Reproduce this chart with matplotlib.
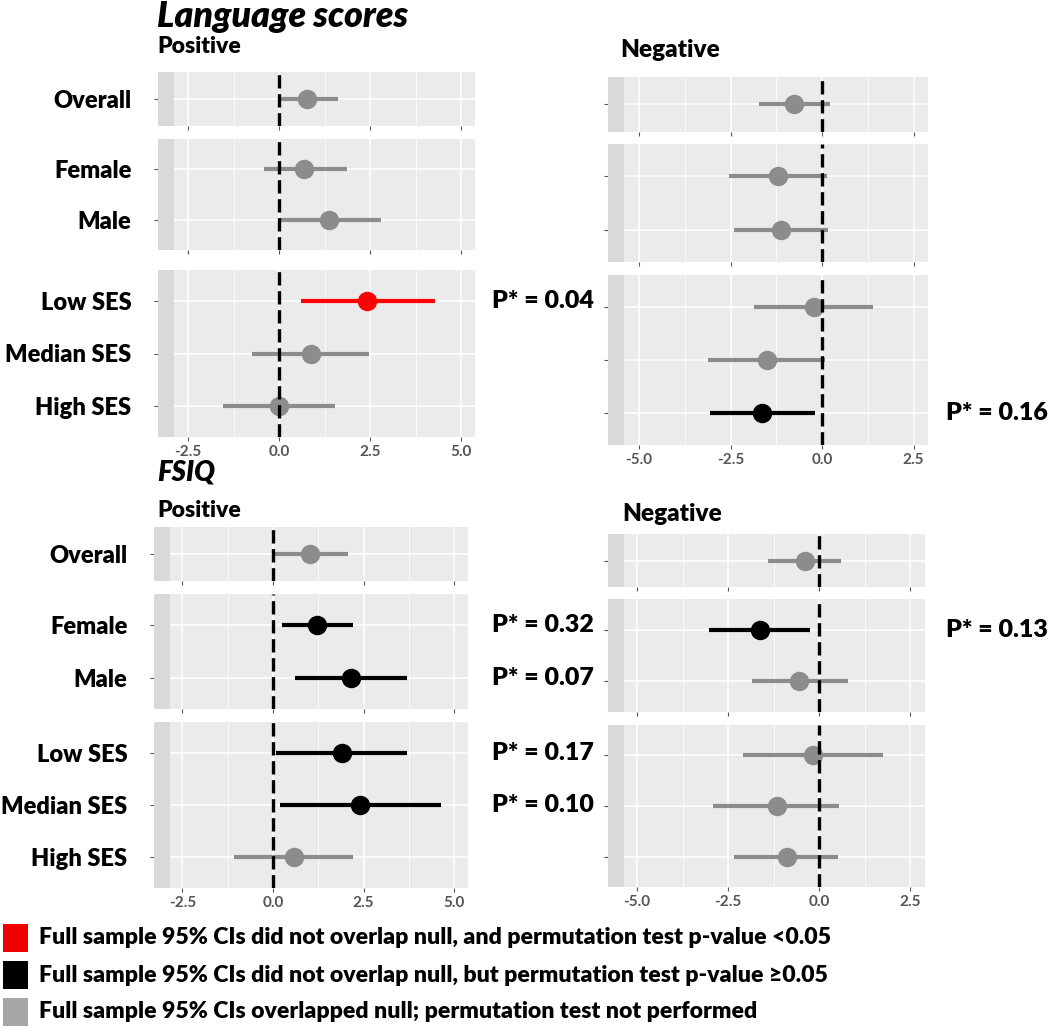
import matplotlib
matplotlib.use("Agg")
import matplotlib.pyplot as plt
from matplotlib.patches import Rectangle
from matplotlib.transforms import blended_transform_factory

plt.rcParams["font.family"] = ["Lato", "DejaVu Sans"]

W, H = 1050, 1028
WEIGHT = "heavy"

# row labels, grouped by panel
GROUPS = [["Overall"], ["Female", "Male"], ["Low SES", "Median SES", "High SES"]]

# status: "red" = CI excludes null & perm p<0.05, "black" = CI excludes null, perm p>=0.05,
#         "gray" = CI overlaps null
# --- Language scores ---
lang_pos_est = [0.77, 0.69, 1.37, 2.42, 0.87, 0.00]
lang_pos_lo = [0.03, -0.41, 0.03, 0.60, -0.75, -1.55]
lang_pos_hi = [1.63, 1.87, 2.80, 4.29, 2.48, 1.54]
lang_pos_status = ["gray", "gray", "gray", "red", "gray", "gray"]
lang_pos_p = [None, None, None, "0.04", None, None]

lang_neg_est = [-0.77, -1.20, -1.12, -0.22, -1.50, -1.64]
lang_neg_lo = [-1.72, -2.54, -2.40, -1.86, -3.11, -3.06]
lang_neg_hi = [0.22, 0.13, 0.16, 1.39, 0.08, -0.19]
lang_neg_status = ["gray", "gray", "gray", "gray", "gray", "black"]
lang_neg_p = [None, None, None, None, None, "0.16"]

# --- FSIQ ---
fsiq_pos_est = [1.02, 1.22, 2.15, 1.90, 2.40, 0.58]
fsiq_pos_lo = [0.06, 0.24, 0.61, 0.08, 0.19, -1.08]
fsiq_pos_hi = [2.07, 2.20, 3.70, 3.70, 4.64, 2.20]
fsiq_pos_status = ["gray", "black", "black", "black", "black", "gray"]
fsiq_pos_p = [None, "0.32", "0.07", "0.17", "0.10", None]

fsiq_neg_est = [-0.38, -1.62, -0.55, -0.16, -1.15, -0.88]
fsiq_neg_lo = [-1.40, -3.02, -1.84, -2.09, -2.91, -2.33]
fsiq_neg_hi = [0.60, -0.25, 0.80, 1.76, 0.55, 0.52]
fsiq_neg_status = ["gray", "black", "gray", "gray", "gray", "gray"]
fsiq_neg_p = [None, "0.13", None, None, None, None]

pos_ticks = [-2.5, 0.0, 2.5, 5.0]
neg_ticks = [-5.0, -2.5, 0.0, 2.5]

legend_labels = [
    "Full sample 95% CIs did not overlap null, and permutation test p-value <0.05",
    "Full sample 95% CIs did not overlap null, but permutation test p-value \u22650.05",
    "Full sample 95% CIs overlapped null; permutation test not performed",
]

COLORS = {"red": "#ff0000", "black": "#000000", "gray": "#8c8c8c"}
LEGEND_COLORS = ["#f00000", "#000000", "#a6a6a6"]

# layout in pixels: panel left/right, zero position, px per unit, panel tops/bottoms, P* text x
COLUMNS = [
    dict(est=lang_pos_est, lo=lang_pos_lo, hi=lang_pos_hi, st=lang_pos_status, p=lang_pos_p,
         x0=158, x1=475, zero=279, ppu=36.4, ys=[(72, 126), (139, 250), (270, 437)],
         ticks=pos_ticks, labels=True, px=492),
    dict(est=lang_neg_est, lo=lang_neg_lo, hi=lang_neg_hi, st=lang_neg_status, p=lang_neg_p,
         x0=608, x1=928, zero=822, ppu=36.6, ys=[(77, 132), (144, 262), (275, 445)],
         ticks=neg_ticks, labels=False, px=946),
    dict(est=fsiq_pos_est, lo=fsiq_pos_lo, hi=fsiq_pos_hi, st=fsiq_pos_status, p=fsiq_pos_p,
         x0=154, x1=468, zero=273, ppu=36.2, ys=[(527, 581), (594, 709), (722, 888)],
         ticks=pos_ticks, labels=True, px=492),
    dict(est=fsiq_neg_est, lo=fsiq_neg_lo, hi=fsiq_neg_hi, st=fsiq_neg_status, p=fsiq_neg_p,
         x0=608, x1=925, zero=819, ppu=36.4, ys=[(534, 587), (599, 712), (725, 887)],
         ticks=neg_ticks, labels=False, px=946),
]

fig = plt.figure(figsize=(W / 100, H / 100), dpi=100)
renderer = fig.canvas.get_renderer()


def fit_width(t, target_px):
    # scale a text's font size so it spans about target_px pixels
    for _ in range(3):
        w = t.get_window_extent(renderer).width
        t.set_fontsize(t.get_fontsize() * target_px / w)


for col in COLUMNS:
    xlim = ((col["x0"] - col["zero"]) / col["ppu"], (col["x1"] - col["zero"]) / col["ppu"])
    ticks = col["ticks"]
    minor = [(a + b) / 2 for a, b in zip(ticks[:-1], ticks[1:])]
    i = 0
    for g, names in enumerate(GROUPS):
        y0, y1 = col["ys"][g]
        ax = fig.add_axes([col["x0"] / W, 1 - y1 / H, (col["x1"] - col["x0"]) / W, (y1 - y0) / H])
        ax.set_facecolor("#ebebeb")
        for s in ax.spines.values():
            s.set_visible(False)
        ax.set_axisbelow(True)
        n = len(names)
        rows = list(range(1, n + 1))
        ax.set_ylim(n + 0.6, 0.4)
        ax.set_xlim(*xlim)
        ax.set_xticks(ticks)
        ax.set_xticks(minor, minor=True)
        ax.set_yticks(rows)
        ax.grid(which="major", color="white", lw=1.1)
        ax.grid(which="minor", axis="x", color="white", lw=0.55)
        ax.tick_params(which="minor", length=0)
        ax.tick_params(which="major", length=3, width=0.8, color="#555555")
        if g == len(GROUPS) - 1:
            ax.set_xticklabels([f"{t:.1f}" for t in ticks], fontsize=11, color="#555555",
                               fontweight="bold")
            ax.tick_params(axis="x", pad=3)
        else:
            ax.set_xticklabels([])
        if col["labels"]:
            ax.set_yticklabels(names, fontsize=17, fontweight=WEIGHT)
            ax.tick_params(axis="y", pad=16)
        else:
            ax.set_yticklabels([])
        ax.add_patch(Rectangle((0, 0), 16 / (col["x1"] - col["x0"]), 1, transform=ax.transAxes,
                               facecolor="#d9d9d9", edgecolor="none", zorder=1.5))
        ax.axvline(0, color="black", lw=2.4, dashes=(4, 1.7), zorder=5)
        tr = blended_transform_factory(fig.transFigure, ax.transData)
        for r in rows:
            c = COLORS[col["st"][i]]
            ax.plot([col["lo"][i], col["hi"][i]], [r, r], color=c, lw=3, solid_capstyle="butt",
                    zorder=3)
            ax.plot(col["est"][i], r, "o", color=c, markersize=13, zorder=4)
            if col["p"][i] is not None:
                ax.text(col["px"] / W, r, f"P* = {col['p'][i]}", transform=tr, fontsize=18,
                        fontweight=WEIGHT, ha="left", va="center")
            i += 1

# titles
t = fig.text(157 / W, 1 - 27 / H, "Language scores", fontsize=24, fontweight=WEIGHT,
             style="italic", va="baseline")
fit_width(t, 251)
fig.text(157 / W, 1 - 53 / H, "Positive", fontsize=16.5, fontweight=WEIGHT, va="baseline")
fig.text(620 / W, 1 - 57 / H, "Negative", fontsize=17.5, fontweight=WEIGHT, va="baseline")
t = fig.text(157 / W, 1 - 480 / H, "FSIQ", fontsize=21, fontweight=WEIGHT,
             style="italic", va="baseline")
fit_width(t, 58)
fig.text(157 / W, 1 - 517 / H, "Positive", fontsize=16.5, fontweight=WEIGHT, va="baseline")
fig.text(622 / W, 1 - 521 / H, "Negative", fontsize=17.5, fontweight=WEIGHT, va="baseline")

# legend
leg_texts = []
for k, (lab, c) in enumerate(zip(legend_labels, LEGEND_COLORS)):
    top = 924 + k * 37
    fig.patches.append(Rectangle((3 / W, 1 - (top + 28) / H), 25 / W, 28 / H,
                                 transform=fig.transFigure, facecolor=c, edgecolor="none"))
    leg_texts.append(fig.text(39 / W, 1 - (top + 14) / H, lab, fontsize=15.5,
                              fontweight=WEIGHT, va="center"))
fit_width(leg_texts[0], 789)
for t in leg_texts[1:]:
    t.set_fontsize(leg_texts[0].get_fontsize())

fig.savefig("out.png", dpi=100)
